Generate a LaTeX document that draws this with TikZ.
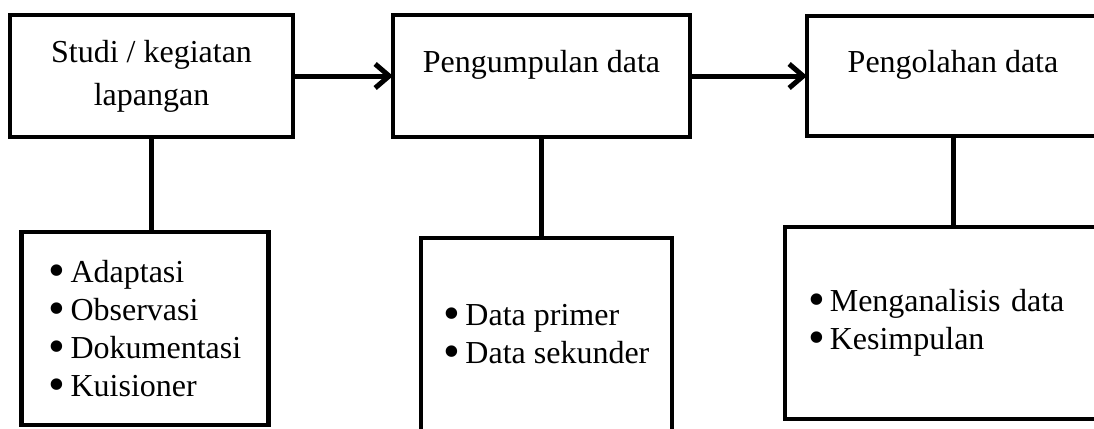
\documentclass[tikz,border=0pt]{standalone}
\usepackage{fontspec}
\setmainfont{Liberation Serif}
\usepackage{tikz}
\usetikzlibrary{positioning, arrows.meta}
\tikzstyle{topbox} = [rectangle, minimum width=283pt, minimum height=122pt, text centered, align=center, draw=black, line width=4.5pt, outer sep=0pt, fill=white, font=\fontsize{32}{43}\selectfont]
\tikzstyle{upper} = [text height=22pt, text depth=29pt]
\tikzstyle{listbox} = [rectangle, minimum width=247pt, minimum height=193pt, align=left, draw=black, line width=4.5pt, outer sep=0pt, fill=white, font=\fontsize{32}{38}\selectfont]
\tikzstyle{arrow} = [line width=5pt,-{Straight Barb[length=14pt,width=24pt]}]
\tikzstyle{line} = [line width=5pt]
\newcommand{\itm}{\raisebox{-4pt}[0pt][0pt]{\scalebox{1.5}{\textbullet}}\hspace{5pt}}

\begin{document}
\begin{tikzpicture}
		\useasboundingbox (0,0) rectangle (1094pt,-428pt);
		\fill [white] (0,0) rectangle (1094pt,-428pt);
		\clip (0,0) rectangle (1094pt,-428pt);
		
		\node (studi) [topbox] at (151.5pt,-76pt) {Studi / kegiatan\\lapangan};
		\node (kumpul) [topbox, upper, minimum width=297pt, right=100pt of studi] {Pengumpulan data};
		\node (olah) [topbox, upper, minimum width=292pt, minimum height=120pt, right=117pt of kumpul] {Pengolahan data};
		
		\node (metode) [listbox, below=95pt of studi, xshift=-6.5pt] {\itm Adaptasi\\\itm Observasi\\\itm Dokumentasi\\\itm Kuisioner};
		\node (jenis) [listbox, minimum width=251pt, below=101pt of kumpul, xshift=5pt] {\itm Data primer\\\itm Data sekunder};
		\node (analisis) [listbox, minimum width=336pt, minimum height=192pt, text width=290pt, below=91pt of olah] {\itm Menganalisis data\\\itm Kesimpulan};
		
		\draw [arrow] (studi) -- (kumpul);
		\draw [arrow] (kumpul) -- (olah);
		\draw [line] (studi) -- (studi |- metode.north);
		\draw [line] (kumpul) -- (kumpul |- jenis.north);
		\draw [line] (olah) -- (analisis);
		
		\end{tikzpicture}
\end{document}
